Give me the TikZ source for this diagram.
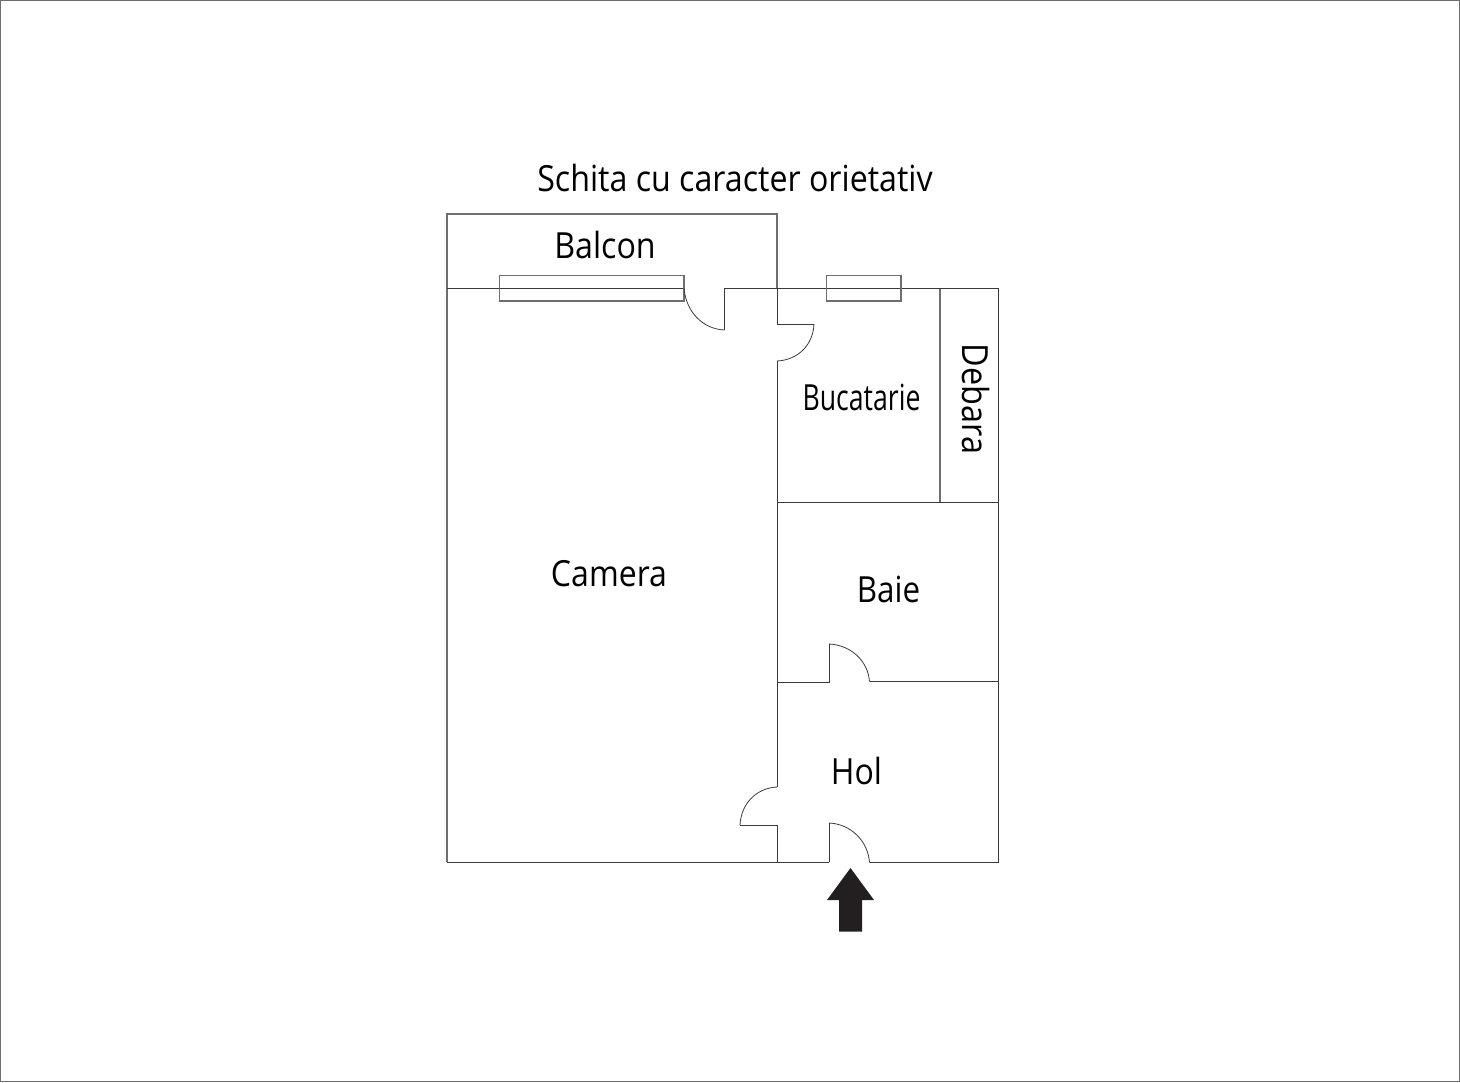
\documentclass[tikz,border=0pt]{standalone}
\usepackage{fontspec}
\setmainfont{Open Sans}
\definecolor{wall}{HTML}{3A3A3A}
\definecolor{wallgray}{HTML}{6E6E6E}
\definecolor{arrowblack}{HTML}{231F20}
\tikzset{
  x=0.5pt,y=-0.5pt,
  wallline/.style={draw=wall,line width=0.5pt,line join=miter},
  softline/.style={draw=wallgray,line width=0.65pt},
  swing/.style={draw=wall,line width=0.4pt},
  label/.style={inner sep=0pt,text=black,font=\fontsize{18}{20}\selectfont,transform shape},
}
\begin{document}
\begin{tikzpicture}
\useasboundingbox (0,0) rectangle (1460,1082);
\draw[draw=wallgray,line width=0.65pt] (0.8,0.8) rectangle (1459.2,1081.2);
% balcony and main walls
\draw[softline] (447,288.5) -- (447,214) -- (777,214) -- (777,288.5);
\draw[softline] (447,288.5) -- (447,862);
\draw[wallline] (447,288.5) -- (684,288.5);
\draw[wallline] (724.5,330) -- (724.5,288.5) -- (998,288.5) -- (998,862.5) -- (869.5,862.5);
\draw[wallline] (829,862) -- (447,862);
\draw[wallline] (777,288.5) -- (777,324) -- (814,324);
\draw[wallline] (777,361) -- (777,787);
\draw[wallline] (740,825) -- (777,825) -- (777,862);
\draw[wallline] (777,502) -- (998,502);
\draw[softline] (940,288.5) -- (940,502);
\draw[wallline] (777,682.5) -- (829,682.5) -- (829,644);
\draw[wallline] (869.5,681.5) -- (998,681.5);
\draw[wallline] (829,862) -- (829,823);
% windows
\draw[softline] (499.5,275.5) rectangle (684,301);
\draw[softline] (826.5,275.5) rectangle (901,301);
% door swings
\draw[swing] (684,288.5) .. controls (686,311) and (702,329) .. (724.5,330);
\draw[swing] (814,324) .. controls (813,345) and (798,360) .. (777,361);
\draw[swing] (777,787) .. controls (756,788) and (741,804) .. (740,825);
\draw[swing] (829,644) .. controls (851,645) and (868,661) .. (869.5,681.5);
\draw[swing] (829,823) .. controls (851,824) and (868,841) .. (869.5,862.5);
% entrance arrow
\fill[arrowblack] (850.5,868) -- (874,900) -- (862,900) -- (862,931.5) -- (839,931.5) -- (839,900) -- (827,900) -- cycle;
% labels
\node[label,xscale=0.894] (title) at (735,178) {Schita cu caracter orietativ};
\node[label,xscale=0.894] (balcon) at (605,245) {Balcon};
\node[label,xscale=0.89] (camera) at (609,574) {Camera};
\node[label,xscale=0.74] (bucatarie) at (861.5,397) {Bucatarie};
\node[label,rotate=-90,xscale=0.9] (debara) at (976,399) {Debara};
\node[label,xscale=0.87] (baie) at (888.5,589) {Baie};
\node[label,xscale=0.89] (hol) at (856.5,771) {Hol};
\end{tikzpicture}
\end{document}
